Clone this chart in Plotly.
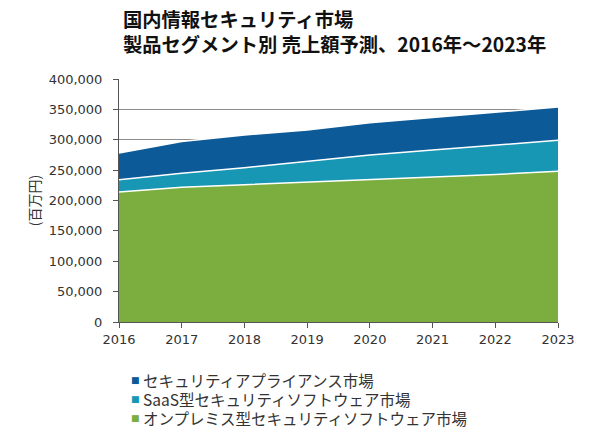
import plotly.graph_objects as go

years = [2016, 2017, 2018, 2019, 2020, 2021, 2022, 2023]

# 百万円
onprem = [214000, 222000, 226000, 230000, 234000, 238000, 243000, 248000]
saas = [20000, 23000, 28000, 34000, 41000, 45000, 48000, 51000]
appliance = [44000, 52000, 54000, 52000, 53000, 54000, 55000, 55000]

names = ["オンプレミス型セキュリティソフトウェア市場",
         "SaaS型セキュリティソフトウェア市場",
         "セキュリティアプライアンス市場"]
colors = ["#7bae3e", "#1797b4", "#0c5a98"]
tick_vals = [0, 50000, 100000, 150000, 200000, 250000, 300000, 350000, 400000]
tick_text = ["0", "50,000", "100,000", "150,000", "200,000", "250,000",
             "300,000", "350,000", "400,000"]
title_lines = ["国内情報セキュリティ市場",
               "製品セグメント別 売上額予測、2016年～2023年"]

# page has an 8px body margin, so the figure is a bit smaller than the window
W, H = 582, 430
L, T, R, B = 111, 71, 32, 116
PW, PH = W - L - R, H - T - B


def px_x(x):
    # screen pixel -> paper x
    return (x - 8 - L) / PW


def px_y(y):
    return 1 - (y - 8 - T) / PH


fig = go.Figure()
for vals, name, col in zip([onprem, saas, appliance], names, colors):
    fig.add_trace(go.Scatter(
        x=years, y=vals, name=name, mode="lines",
        stackgroup="one", fillcolor=col,
        line=dict(color="white", width=1.5),
        showlegend=False,
    ))

for i, line in enumerate(title_lines):
    fig.add_annotation(
        text="<b>" + line + "</b>", xref="paper", yref="paper",
        x=px_x(122), y=px_y(19 + 25 * i),
        xanchor="left", yanchor="middle", showarrow=False, borderpad=0,
        font=dict(family="Noto Sans CJK JP", size=19.3, color="#111111"),
    )

# legend drawn as text: small square swatch + label, top entry first
for i, (name, col) in enumerate(zip(names[::-1], colors[::-1])):
    y = px_y(380 + 19 * i)
    fig.add_annotation(
        text="■", xref="paper", yref="paper", x=px_x(135), y=y,
        xanchor="center", yanchor="middle", showarrow=False, borderpad=0,
        font=dict(family="DejaVu Sans", size=9, color=col),
    )
    fig.add_annotation(
        text=name, xref="paper", yref="paper", x=px_x(142), y=y,
        xanchor="left", yanchor="middle", showarrow=False, borderpad=0,
        font=dict(family="Noto Sans CJK JP", size=15.5, color="#333333"),
    )

fig.update_layout(
    width=W, height=H,
    paper_bgcolor="white", plot_bgcolor="white",
    margin=dict(l=L, r=R, t=T, b=B, autoexpand=False),
    font=dict(family="DejaVu Sans, Noto Sans CJK JP", size=12.5, color="#333333"),
    showlegend=False,
)
fig.update_xaxes(
    range=[2016, 2023], tickmode="array", tickvals=years,
    ticks="outside", ticklen=5, tickcolor="#555555",
    showline=True, linecolor="#555555", showgrid=False, zeroline=False,
    tickfont=dict(size=13), automargin=False,
)
fig.update_yaxes(
    range=[0, 400000], tickmode="array", tickvals=tick_vals, ticktext=tick_text,
    ticks="outside", ticklen=5, tickcolor="#555555", ticklabelstandoff=8,
    showline=True, linecolor="#555555",
    showgrid=True, gridcolor="#8c8c8c", gridwidth=1, zeroline=False,
    tickfont=dict(size=13), automargin=False,
    title=dict(text="(百万円)", standoff=4,
               font=dict(family="Noto Sans CJK JP", size=14, color="#333333")),
)

fig.write_html("out.html")
